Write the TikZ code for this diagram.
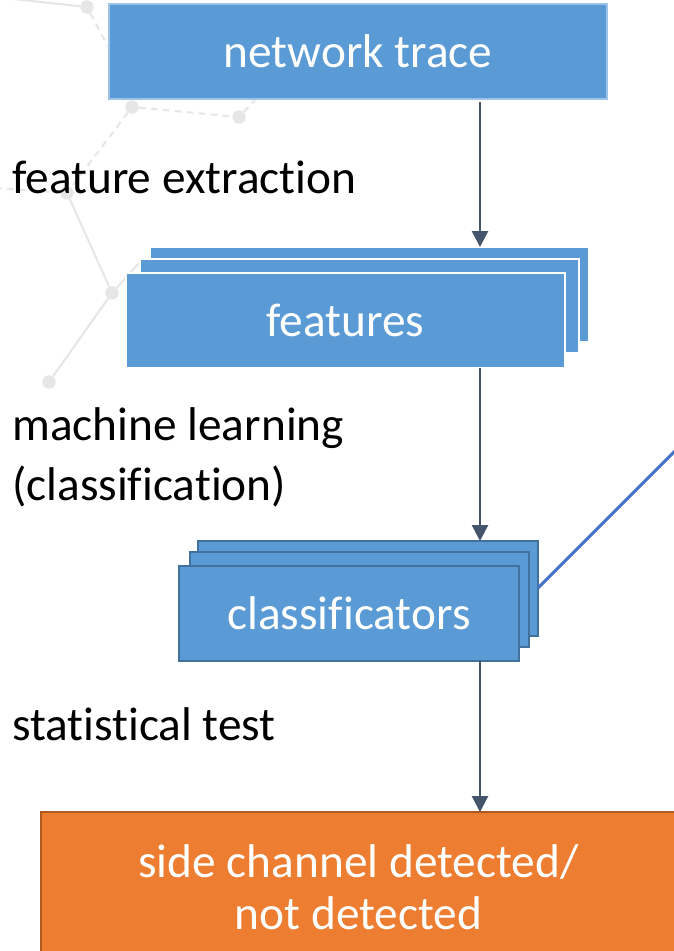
\documentclass[tikz,border=0pt]{standalone}
\usepackage{fontspec}
\setmainfont{Carlito}[Ligatures={NoCommon}]
\usetikzlibrary{arrows.meta}
\definecolor{boxblue}{HTML}{5B9BD5}
\definecolor{boxedge}{HTML}{41719C}
\definecolor{orng}{HTML}{ED7D31}
\definecolor{orngedge}{HTML}{AE5A21}
\definecolor{arr}{HTML}{44546A}
\definecolor{linkblue}{HTML}{4472C4}
\definecolor{deco}{HTML}{E6E6E6}
\tikzset{
  bigtext/.style={font=\fontsize{35.5}{39}\selectfont},
  bluebox/.style={rectangle, fill=boxblue, inner sep=0pt, outer sep=0pt, text=white, bigtext, align=center},
  lightedge/.style={draw=boxblue!60!white, line width=1.2pt},
  whiteedge/.style={draw=white, line width=1.5pt},
  darkedge/.style={draw=boxedge, line width=1.5pt},
  orangebox/.style={rectangle, fill=orng, draw=orngedge, line width=1.5pt, inner sep=0pt, outer sep=0pt, text=white, bigtext, align=center},
  steplabel/.style={anchor=base west, inner sep=0pt, text=black, bigtext, align=left},
  flow/.style={draw=arr, line width=2pt, -{Triangle[width=12pt,length=12pt]}},
  decoline/.style={draw=deco, line width=1.5pt},
  decodash/.style={draw=deco, line width=1.5pt, dash pattern=on 5pt off 4pt},
  decodot/.style={circle, fill=deco, inner sep=0pt, minimum size=10pt},
}
\begin{document}
\begin{tikzpicture}[x=0.75pt,y=-0.75pt]
\clip (0,0) rectangle (674,951);
\fill[white] (0,0) rectangle (674,951);
% background decoration
\node[decodot] (d1) at (87,7) {};
\node[decodot] (d2) at (132,107) {};
\node[decodot] (d3) at (239,117) {};
\node[decodot] (d4) at (67,193) {};
\node[decodot] (d5) at (112,293) {};
\node[decodot] (d6) at (49,382) {};
\coordinate (e0) at (-5,-3);
\coordinate (e1) at (110,50);
\coordinate (e2) at (255,100);
\coordinate (e3) at (-5,188);
\coordinate (e4) at (140,262);
\draw[decoline] (e0) -- (d1);
\draw[decodash] (d1) -- (e1);
\draw[decodash] (d2) -- (d3);
\draw[decodash] (d3) -- (e2);
\draw[decodash] (d2) -- (d4);
\draw[decodash] (e3) -- (d4);
\draw[decoline] (d4) -- (d5);
\draw[decoline] (d5) -- (d6);
\draw[decoline] (d5) -- (e4);
% boxes
\node[bluebox, lightedge, minimum width=498*0.75pt, minimum height=95*0.75pt] (nt) at (358,51.5) {network trace};
\node[bluebox, whiteedge, minimum width=439*0.75pt, minimum height=95*0.75pt] (f3) at (369.5,294.5) {};
\node[bluebox, whiteedge, minimum width=439*0.75pt, minimum height=94*0.75pt] (f2) at (359.5,306) {};
\node[bluebox, whiteedge, minimum width=439*0.75pt, minimum height=95*0.75pt] (f1) at (345.5,320.5) {features};
\node[bluebox, darkedge, minimum width=340*0.75pt, minimum height=95*0.75pt] (c3) at (368,588.5) {};
\node[bluebox, darkedge, minimum width=339*0.75pt, minimum height=95*0.75pt] (c2) at (359.5,599.5) {};
\node[bluebox, darkedge, minimum width=340*0.75pt, minimum height=95*0.75pt] (c1) at (349,613.5) {classificators};
\node[orangebox, minimum width=635*0.75pt, minimum height=150*0.75pt] (res) at (358.5,887) {side channel detected/\\not detected};
% labels
\node[steplabel] (l1) at (12,193) {feature extraction};
\node[steplabel] (l2) at (12,440) {machine learning};
\node[steplabel] (l3) at (12,500) {(classification)};
\node[steplabel] (l4) at (12,740) {statistical test};
% connectors
\coordinate (ax) at (480,0);
\draw[flow] ([yshift=-2.5pt]nt.south -| ax) -- (f3.north -| ax);
\draw[flow] (f1.south -| ax) -- (c3.north -| ax);
\draw[flow] (c1.south -| ax) -- (res.north -| ax);
\coordinate (lk) at (700,426);
\draw[draw=linkblue, line width=2.2pt] (c3.east |- 0,588) -- (lk);
\end{tikzpicture}
\end{document}
